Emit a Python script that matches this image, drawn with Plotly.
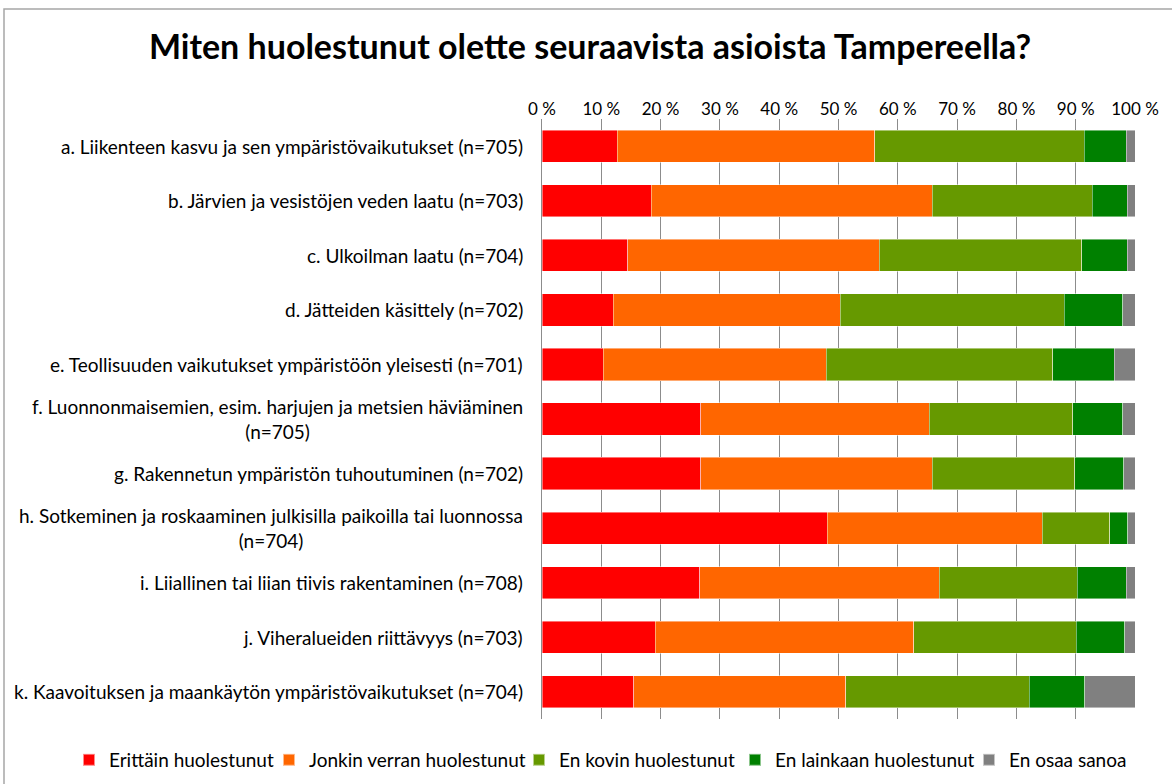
import plotly.graph_objects as go

categories = [
    "a. Liikenteen kasvu ja sen ympäristövaikutukset (n=705)",
    "b. Järvien ja vesistöjen veden laatu (n=703)",
    "c. Ulkoilman laatu (n=704)",
    "d. Jätteiden käsittely (n=702)",
    "e. Teollisuuden vaikutukset ympäristöön yleisesti (n=701)",
    "f. Luonnonmaisemien, esim. harjujen ja metsien häviäminen<br>(n=705)",
    "g. Rakennetun ympäristön tuhoutuminen (n=702)",
    "h. Sotkeminen ja roskaaminen julkisilla paikoilla tai luonnossa<br>(n=704)",
    "i. Liiallinen tai liian tiivis rakentaminen (n=708)",
    "j. Viheralueiden riittävyys (n=703)",
    "k. Kaavoituksen ja maankäytön ympäristövaikutukset (n=704)",
]
keys = ["a", "b", "c", "d", "e", "f", "g", "h", "i", "j", "k"]

erittain = [12.7, 18.4, 14.5, 12.0, 10.3, 26.8, 26.8, 48.1, 26.6, 19.1, 15.5]
jonkin = [43.4, 47.4, 42.4, 38.3, 37.6, 38.5, 39.0, 36.3, 40.4, 43.6, 35.7]
en_kovin = [35.3, 27.0, 34.1, 37.8, 38.2, 24.2, 24.0, 11.3, 23.3, 27.4, 31.0]
en_lainkaan = [7.1, 5.9, 7.7, 9.8, 10.4, 8.4, 8.3, 3.1, 8.2, 8.2, 9.3]
en_osaa = [1.5, 1.3, 1.3, 2.1, 3.5, 2.1, 1.9, 1.2, 1.5, 1.7, 8.5]

series_names = ["Erittäin huolestunut", "Jonkin verran huolestunut", "En kovin huolestunut",
                "En lainkaan huolestunut", "En osaa sanoa"]
series_values = [erittain, jonkin, en_kovin, en_lainkaan, en_osaa]
colors = ["#FF0000", "#FF6600", "#669900", "#008000", "#808080"]

tick_vals = [0, 10, 20, 30, 40, 50, 60, 70, 80, 90, 100]
tick_text = ["0 %", "10 %", "20 %", "30 %", "40 %", "50 %", "60 %", "70 %", "80 %", "90 %", "100 %"]

FONT = "Lato"
W, H = 1172, 784
L, R, T, B = 542, 37, 119, 65

# left pixel of each legend swatch in the reference
legend_px = [86, 286, 536, 752, 986]

fig = go.Figure()
legend_ids = ["legend", "legend2", "legend3", "legend4", "legend5"]
for name, vals, col, lid in zip(series_names, series_values, colors, legend_ids):
    fig.add_trace(go.Bar(
        y=keys, x=vals, name=name, orientation="h", legend=lid, showlegend=True,
        marker=dict(color=col, line=dict(color="rgba(255,255,255,0.55)", width=0.8)),
    ))

# category labels as annotations (centered multi-line like the original)
for k, c in zip(keys, categories):
    fig.add_annotation(
        x=0, xref="paper", xshift=-17, y=k, yref="y",
        text=c, showarrow=False, xanchor="right", yanchor="middle",
        align="center", font=dict(family=FONT, size=19, color="#000000"),
    )

pw = W - L - R
ph = H - T - B


def px_x(p):
    return (p - L) / pw


def px_y(p):
    return (H - B - p) / ph


fig.add_shape(type="rect", xref="paper", yref="paper",
              x0=px_x(4), x1=px_x(1190), y0=px_y(9), y1=px_y(800),
              line=dict(color="#A6A6A6", width=1.5), fillcolor="rgba(0,0,0,0)", layer="below")

legends = {}
for lid, lx in zip(legend_ids, legend_px):
    legends[lid] = dict(orientation="h", xref="container", x=(lx - 17) / W, xanchor="left",
                        yref="container", y=1 - 760 / H, yanchor="middle",
                        font=dict(family=FONT, size=19), itemwidth=30,
                        itemsizing="constant", bgcolor="rgba(0,0,0,0)")

fig.update_layout(
    width=W, height=H,
    showlegend=True,
    margin=dict(l=L, r=R, t=T, b=B, pad=0, autoexpand=False),
    barmode="stack",
    bargap=0.41,
    plot_bgcolor="white", paper_bgcolor="white",
    title=dict(text="<b>Miten huolestunut olette seuraavista asioista Tampereella?</b>",
               x=590 / W, xref="container", xanchor="center", y=1 - 47 / H, yref="container",
               yanchor="middle",
               font=dict(family=FONT, size=34, color="#000000")),
    font=dict(family=FONT, size=17, color="#000000"),
    xaxis=dict(side="top", range=[0, 100], tickvals=tick_vals, ticktext=tick_text,
               showgrid=True, gridcolor="#8C8C8C", gridwidth=1, zeroline=False,
               showline=False, ticks="", tickfont=dict(family=FONT, size=17)),
    xaxis2=dict(overlaying="x", side="bottom", range=[0, 100], tickvals=tick_vals,
                showticklabels=False, ticks="outside", ticklen=7, tickcolor="#8C8C8C",
                tickwidth=1, showgrid=False, zeroline=False, showline=False),
    yaxis=dict(autorange="reversed", showticklabels=False, showline=True,
               linecolor="#8C8C8C", linewidth=1, ticks="", showgrid=False),
    **legends,
)

fig.write_html("out.html", post_script="document.body.style.margin='0';",
               config={"displayModeBar": False})
